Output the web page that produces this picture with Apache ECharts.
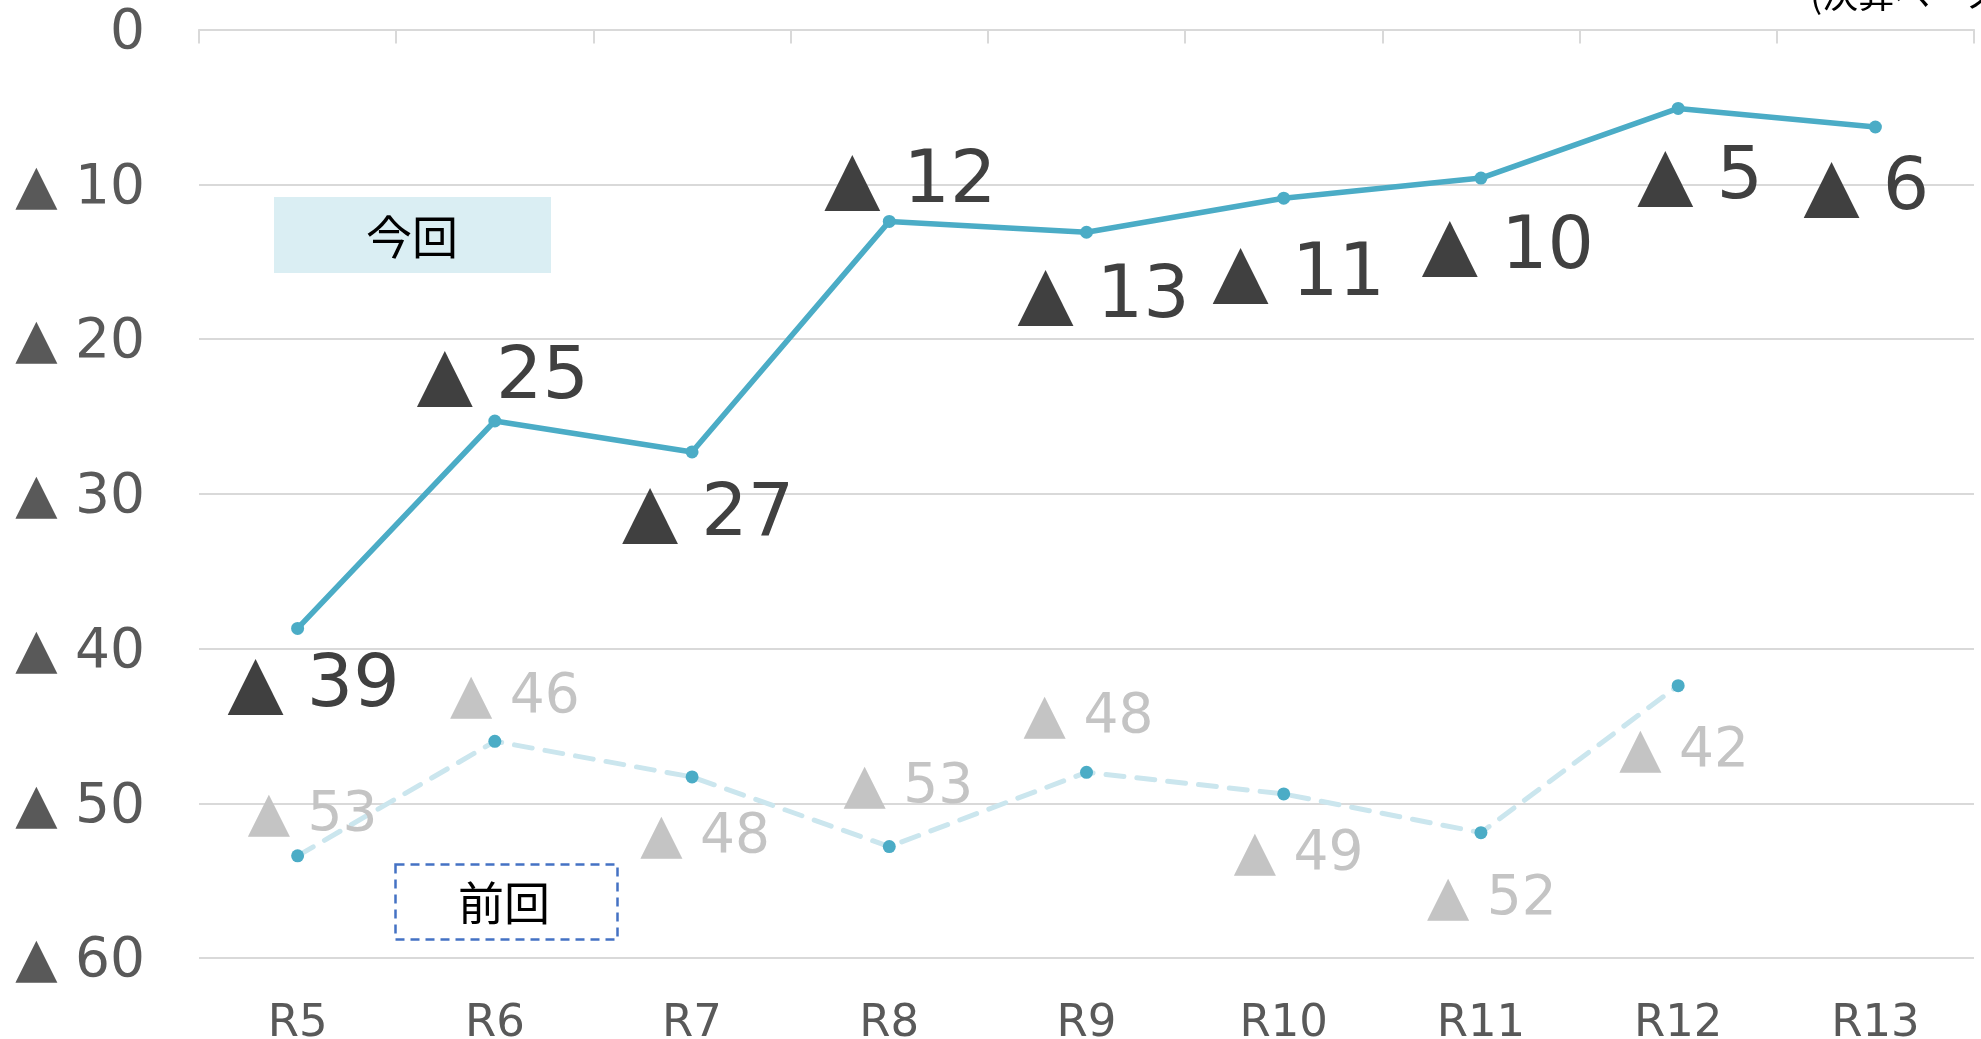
<!DOCTYPE html>
<html>
<head>
<meta charset="utf-8">
<script src="https://cdn.jsdelivr.net/npm/echarts@6/dist/echarts.min.js"></script>
<style>
html,body{margin:0;padding:0;background:#fff;}
#chart{width:1981px;height:1039px;}
</style>
</head>
<body>
<div id="chart"></div>
<script>
// ---- data ----
const categories = ['R5', 'R6', 'R7', 'R8', 'R9', 'R10', 'R11', 'R12', 'R13'];
const currentValues = [38.7, 25.3, 27.3, 12.4, 13.1, 10.9, 9.6, 5.1, 6.3];
const currentLabels = [39, 25, 27, 12, 13, 11, 10, 5, 6];
const previousValues = [53.4, 46.0, 48.3, 52.8, 48.0, 49.4, 51.9, 42.4, null];
const previousLabels = [53, 46, 48, 53, 48, 49, 52, 42, null];
const yTickValues = [0, 10, 20, 30, 40, 50, 60];
const legendCurrent = '今回';
const legendPrevious = '前回';
const noteText = '(決算ベース)';

// ---- label placement (style) ----
const currentLabelOffsets = [[16, 59], [8, -42], [16, 64], [21, -38], [17, 66], [15, 78], [27, 71], [22, 71], [-9, 63]];
const previousLabelOffsets = [[15, -40], [20, -44], [13, 61], [19, -59], [2, -55], [15, 61], [11, 67], [6, 66], [0, 0]];

const FONT = "'DejaVu Sans', Verdana, sans-serif";
const CJK = "'Noto Sans CJK JP', 'Noto Sans CJK SC', sans-serif";

const chart = echarts.init(document.getElementById('chart'), null, {renderer: 'canvas'});

const curData = currentValues.map((v, i) => ({
  value: v,
  label: {offset: currentLabelOffsets[i], formatter: '▲ ' + currentLabels[i]}
}));
const prevData = previousValues.map((v, i) => (v === null ? null : {
  value: v,
  label: {offset: previousLabelOffsets[i], formatter: '▲ ' + previousLabels[i]}
}));

const option = {
  animation: false,
  backgroundColor: '#ffffff',
  grid: {left: 199, right: 7, top: 29.5, bottom: 81, containLabel: false, outerBoundsMode: 'none'},
  xAxis: [
    {
      type: 'category', data: categories, position: 'top', boundaryGap: true,
      axisLine: {show: true, onZero: false, lineStyle: {color: '#d9d9d9', width: 2}},
      axisTick: {show: true, inside: true, length: 14, lineStyle: {color: '#d9d9d9', width: 2}},
      axisLabel: {show: false}
    },
    {
      type: 'category', data: categories, position: 'bottom', boundaryGap: true,
      axisLine: {show: false}, axisTick: {show: false},
      axisLabel: {show: true, fontFamily: FONT, fontSize: 45, color: '#595959', margin: 44}
    }
  ],
  yAxis: {
    type: 'value', inverse: true, min: yTickValues[0], max: yTickValues[yTickValues.length - 1], interval: 10,
    axisLine: {show: false}, axisTick: {show: false},
    splitLine: {show: true, lineStyle: {color: '#d9d9d9', width: 2}},
    axisLabel: {
      fontFamily: FONT, fontSize: 55, color: '#595959', margin: 54,
      formatter: v => '{a|' + (v === 0 ? '0' : '▲ ' + v) + '}',
      rich: {a: {fontFamily: FONT, fontSize: 55, color: '#595959', padding: [8, 0, 0, 0]}}
    }
  },
  series: [
    {
      name: legendPrevious, type: 'line', xAxisIndex: 0, data: prevData,
      symbol: 'circle', symbolSize: 13,
      itemStyle: {color: '#4bacc6'},
      lineStyle: {color: '#cbe6ee', width: 5, type: [18, 13], cap: 'round'},
      label: {show: true, position: 'inside', fontFamily: FONT, fontSize: 55, color: '#c4c4c4'},
      z: 3
    },
    {
      name: legendCurrent, type: 'line', xAxisIndex: 0, data: curData,
      symbol: 'circle', symbolSize: 13,
      itemStyle: {color: '#4bacc6'},
      lineStyle: {color: '#4bacc6', width: 5.5},
      label: {show: true, position: 'inside', fontFamily: FONT, fontSize: 73, color: '#404040'},
      z: 4
    }
  ],
  graphic: [
    {
      type: 'rect', left: 274, top: 197, shape: {width: 277, height: 76},
      style: {fill: '#daeef3'}, z: 1
    },
    {
      type: 'text', x: 412, y: 237,
      style: {text: legendCurrent, font: "46px " + CJK, fill: '#000', textAlign: 'center', textVerticalAlign: 'middle'}, z: 2
    },
    {
      type: 'rect', left: 393, top: 862, shape: {width: 222, height: 75},
      style: {fill: 'none', stroke: '#4472c4', lineWidth: 2.5, lineDash: [9, 6]}, z: 1
    },
    {
      type: 'text', x: 504, y: 903,
      style: {text: legendPrevious, font: "46px " + CJK, fill: '#000', textAlign: 'center', textVerticalAlign: 'middle'}, z: 2
    },
    {
      type: 'text', x: 1810, y: 12,
      style: {text: noteText, font: "36px " + CJK, fill: '#000', textAlign: 'left', textVerticalAlign: 'bottom'}, z: 2
    }
  ]
};
chart.setOption(option);
</script>
</body>
</html>
